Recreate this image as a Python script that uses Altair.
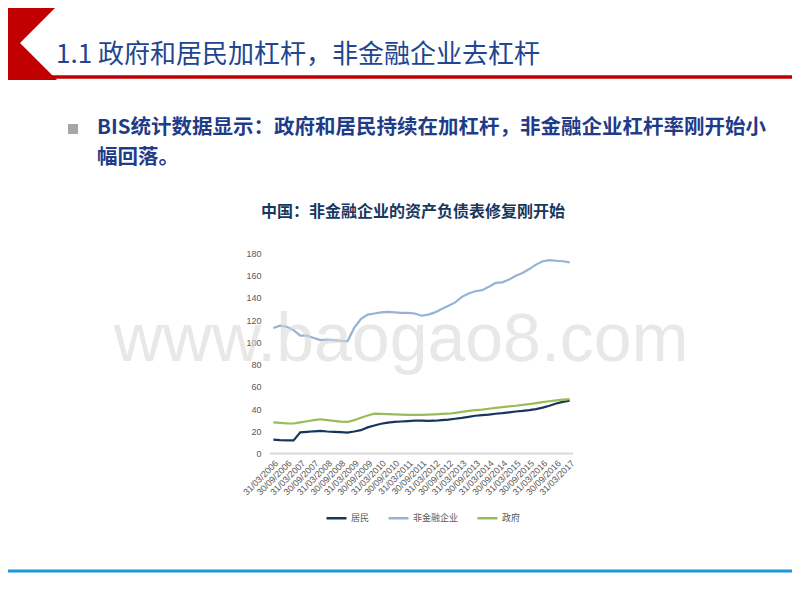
import altair as alt
import pandas as pd

# ---------------- data ----------------
quarters = []
for yr in range(2006, 2017):
    quarters += [f"31/03/{yr}", f"30/06/{yr}", f"30/09/{yr}", f"31/12/{yr}"]
quarters.append("31/03/2017")
label_dates = [q for q in quarters if q.startswith("31/03") or q.startswith("30/09")]

series_names = ["居民", "非金融企业", "政府"]
series_colors = ["#17365d", "#95b3d7", "#9bbb59"]

household = [12.5, 12.0, 11.8, 11.8, 19.0, 19.5, 20.0, 20.3, 19.8, 19.5, 19.2, 18.8,
             19.8, 21.0, 23.5, 25.2, 26.8, 27.8, 28.5, 28.8, 29.2, 29.5, 29.5, 29.3,
             29.5, 30.0, 30.5, 31.3, 32.0, 33.0, 34.0, 34.5, 35.0, 35.8, 36.3, 37.0,
             37.8, 38.3, 39.0, 40.0, 41.3, 43.0, 45.0, 46.5, 47.5]
nonfin = [113, 115, 114, 111, 106, 106, 104, 102, 102.5, 102, 101.5, 101,
          113, 121, 125, 126, 127, 127.5, 127, 126.5, 126.5, 126, 124, 125,
          127, 130, 133, 136, 141, 144, 146, 147, 150, 153.5, 154, 156.5,
          160, 162.5, 166, 170, 173, 174, 173.5, 173, 172]
gov = [28, 27.6, 27.2, 27, 28, 29, 30, 30.8, 30, 29.3, 28.7, 28.4,
       30.0, 32.2, 34.2, 35.8, 35.6, 35.4, 35.2, 35, 34.8, 34.7, 34.7, 35,
       35.3, 35.6, 35.8, 36.5, 37.5, 38.3, 39, 39.5, 40.3, 41, 41.7, 42.4,
       43, 43.8, 44.5, 45.3, 46.2, 47, 47.8, 48.5, 49]
y_ticks = [0, 20, 40, 60, 80, 100, 120, 140, 160, 180]

slide_title = "1.1 政府和居民加杠杆，非金融企业去杠杆"
bullet_line1 = "BIS统计数据显示：政府和居民持续在加杠杆，非金融企业杠杆率刚开始小"
bullet_line2 = "幅回落。"
chart_title = "中国：非金融企业的资产负债表修复刚开始"
watermark = "www.baogao8.com"

rows = []
for name, vals in zip(series_names, [household, nonfin, gov]):
    for q, v in zip(quarters, vals):
        rows.append({"date": q, "series": name, "value": v})
df = pd.DataFrame(rows)
one = pd.DataFrame({"k": [0]})

CJK = "Noto Sans CJK SC"
GREY = "#595959"

# ---------------- main lines ----------------
lines = alt.Chart(df).mark_line(strokeWidth=2.2).encode(
    x=alt.X("date:O", sort=quarters,
            scale=alt.Scale(type="point", padding=0.5),
            axis=alt.Axis(values=label_dates, title=None, labelAngle=-45,
                          labelFontSize=9, labelColor=GREY, labelFont="Liberation Sans",
                          ticks=False, labelPadding=5, domain=False, grid=False,
                          labelOverlap=False)),
    y=alt.Y("value:Q", scale=alt.Scale(domain=[0, 180]),
            axis=alt.Axis(values=y_ticks, title=None, grid=False, domain=False,
                          ticks=False, labelPadding=9, labelFontSize=9,
                          labelColor=GREY, labelFont="Liberation Sans")),
    color=alt.Color("series:N", sort=series_names,
                    scale=alt.Scale(domain=series_names, range=series_colors),
                    legend=alt.Legend(title=None, orient="none", legendX=55, legendY=253,
                                      direction="horizontal", symbolType="stroke",
                                      symbolSize=400, symbolStrokeWidth=2.5,
                                      labelFontSize=9, labelColor=GREY, labelFont=CJK,
                                      labelOffset=3, columnPadding=13, padding=0)),
)


def text_layer(txt, x, y, **kw):
    return alt.Chart(one).mark_text(text=txt, **kw).encode(
        x=alt.value(x), y=alt.value(y))


def rule_layer(x, x2, y, color, width):
    return alt.Chart(one).mark_rule(color=color, strokeWidth=width).encode(
        x=alt.value(x), x2=alt.value(x2), y=alt.value(y))


# coordinates relative to plot origin (page 270, 253.5)
axis_zero = rule_layer(0, 303, 200, "#d9d9d9", 2)
title_t = text_layer(slide_title, -214, -198.5, font=CJK, fontSize=26, color="#21468f",
                     align="left", baseline="middle")
underline = rule_layer(-222, 530, -176.5, "#c00000", 3.5)
chevron = alt.Chart(one).mark_point(
    shape="M-0.17,-0.40 L0.31,-0.40 L-0.12,0.03 L0.25,0.40 L-0.24,0.40 L-0.32,0.32 L-0.32,-0.25 Z",
    size=40000, filled=True, color="#c00000", opacity=1, strokeWidth=0,
).encode(x=alt.value(-238), y=alt.value(-213.5))
bullet = alt.Chart(one).mark_square(size=100, color="#a6a6a6", opacity=1).encode(
    x=alt.value(-197), y=alt.value(-124.5))
b1 = text_layer(bullet_line1, -173, -125.5, font=CJK, fontSize=20.5, fontWeight="bold",
                color="#1f3c88", align="left", baseline="middle")
b2 = text_layer(bullet_line2, -173, -95.5, font=CJK, fontSize=20.5, fontWeight="bold",
                color="#1f3c88", align="left", baseline="middle")
ctitle = text_layer(chart_title, 143, -41.8, font=CJK, fontSize=16, fontWeight="bold",
                    color="#17375e", align="center", baseline="middle")
wm = text_layer(watermark, 131, 107, font="Liberation Sans", fontSize=68,
                color="#d6d6d6", opacity=0.55, align="center", baseline="alphabetic")
bottom_line = rule_layer(-270, 530, 317.5, "#1a9ad6", 3)

chart = alt.layer(
    chevron, underline, title_t, bullet, b1, b2, ctitle, axis_zero, lines, wm, bottom_line
).properties(
    width=303, height=200, background="white",
    padding={"left": 262, "top": 245.5, "right": 219, "bottom": 138.5},
    autosize=alt.AutoSizeParams(type="none"),
).configure_view(stroke=None, fill=None, strokeWidth=0)

chart.save("out.html", embed_options={"renderer": "svg", "actions": False})
